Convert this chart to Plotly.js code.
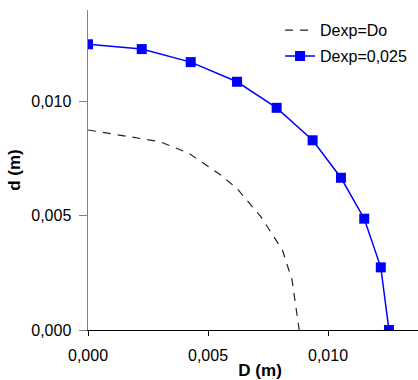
<!DOCTYPE html>
<html>
<head>
<meta charset="utf-8">
<script src="https://cdn.plot.ly/plotly-3.0.1.min.js"></script>
<style>html,body{margin:0;padding:0;background:#fff;}#chart{width:418px;height:380px;}</style>
</head>
<body>
<div id="chart"></div>
<script>
// Dexp = Do (dashed)
const dashD = [0.0000, 0.0030, 0.0042, 0.0055, 0.0062, 0.0072, 0.0081, 0.0085, 0.0088];
const dashd = [0.00875, 0.00824, 0.00773, 0.0068, 0.0062, 0.00496, 0.0035, 0.0022, 0.0000];
// Dexp = 0,025 (blue squares)
const blueD = [0.0000, 0.00224, 0.00428, 0.00621, 0.00786, 0.00936, 0.01054, 0.01151, 0.0122, 0.01254];
const blued = [0.0125, 0.01229, 0.01172, 0.01086, 0.00972, 0.0083, 0.00666, 0.00487, 0.00274, 0.0000];
const names = ["Dexp=Do", "Dexp=0,025"];
const xTicks = [0, 0.005, 0.010];
const yTicks = [0, 0.005, 0.010];

const font = "Liberation Sans, Arial, sans-serif";
const traces = [
  {x: dashD, y: dashd, name: names[0], mode: "lines", type: "scatter", legendgroup: "a",
   line: {color: "#222222", width: 1.2, dash: "8px,7px"}},
  {x: blueD, y: blued, name: names[1], mode: "lines+markers", type: "scatter", legendgroup: "b",
   line: {color: "#0000ff", width: 1.5},
   marker: {symbol: "square", size: 10, color: "#0000ff"}}
];
const layout = {
  width: 418, height: 380,
  margin: {l: 88, r: 0, t: 10, b: 50},
  paper_bgcolor: "#fff", plot_bgcolor: "#fff",
  separators: ",.",
  font: {family: font, size: 16, color: "#000"},
  showlegend: true,
  legend: {x: 0.582, y: 0.99, xanchor: "left", yanchor: "top", bgcolor: "rgba(0,0,0,0)",
           font: {family: font, size: 16}, tracegroupgap: 2, traceorder: "grouped"},
  xaxis: {range: [0, 0.01375], tickvals: xTicks, tickformat: ".3f",
          showgrid: false, zeroline: false, showline: true, linecolor: "#000", linewidth: 1,
          ticks: "outside", ticklen: 5, tickcolor: "#000", ticklabelstandoff: 6,
          title: {text: "&nbsp;&nbsp;&nbsp;<b>D (m)</b>", font: {family: font, size: 17}, standoff: 0}},
  yaxis: {range: [0, 0.014], tickvals: yTicks, tickformat: ".3f",
          showgrid: false, zeroline: false, showline: true, linecolor: "#808080", linewidth: 1.5,
          ticks: "outside", ticklen: 8, tickcolor: "#808080", ticklabelstandoff: 4,
          title: {text: "<b>d (m)</b>", font: {family: font, size: 17}, standoff: 6}}
};
Plotly.newPlot("chart", traces, layout, {displayModeBar: false, staticPlot: true});
</script>
</body>
</html>
